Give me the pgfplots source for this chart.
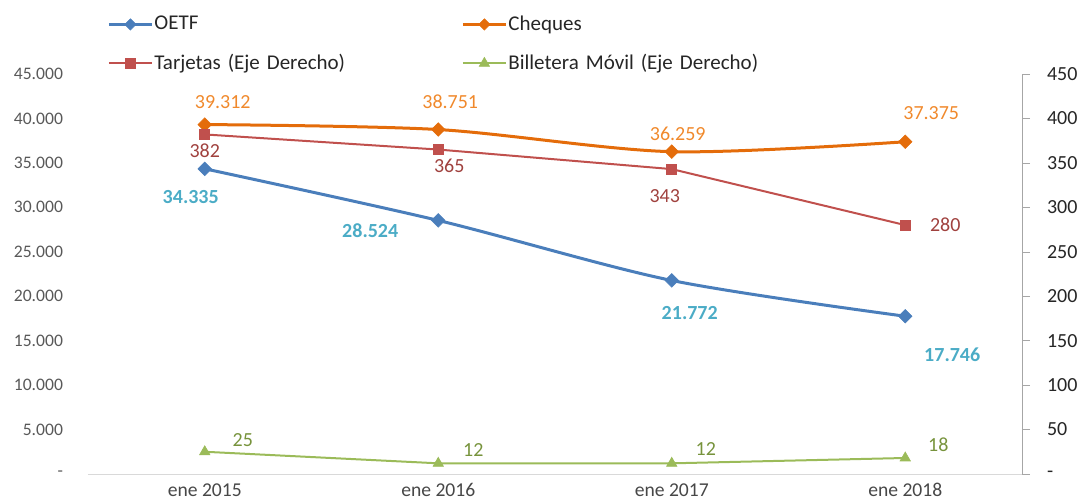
\documentclass[border=0pt]{standalone}
\usepackage{pgfplots}
\pgfplotsset{compat=1.18}
\usepackage{fontspec}
\setmainfont{Carlito}
\definecolor{oetf}{HTML}{4A7EBB}
\definecolor{oetflab}{HTML}{4BACC6}
\definecolor{chq}{HTML}{E46C0A}
\definecolor{chqlab}{HTML}{F0892C}
\definecolor{tar}{HTML}{C0504D}
\definecolor{tarlab}{HTML}{A0413E}
\definecolor{bil}{HTML}{9BBB59}
\definecolor{billab}{HTML}{77933C}
\definecolor{tickc}{HTML}{595959}
\pgfplotstableread{
x oetf cheques
0 34335 39312
1 28524 38751
2 21772 36259
3 17746 37375
}\lefttab
\pgfplotstableread{
x tarjetas billetera
0 382 25
1 365 12
2 343 12
3 280 18
}\righttab
\tikzset{lab/.style={font=\fontsize{10}{12}\selectfont, inner sep=0pt, anchor=center}}
\begin{document}
\begin{tikzpicture}
\begin{axis}[
  name=ax1,
  at={(0,0)}, anchor=south west,
  scale only axis, width=467pt, height=200pt,
  xmin=-0.5, xmax=3.5, ymin=0, ymax=45000,
  scaled y ticks=false,
  axis x line*=bottom, axis y line*=left,
  x axis line style={draw=black!15, -},
  y axis line style={draw=none},
  xtick={0,1,2,3},
  xticklabels={ene 2015, ene 2016, ene 2017, ene 2018},
  ytick={0,5000,...,45000},
  yticklabels={-,5.000,10.000,15.000,20.000,25.000,30.000,35.000,40.000,45.000},
  major tick length=0pt,
  tick style={draw=none},
  yticklabel style={font=\fontsize{8.8}{10}\selectfont, text=tickc, xshift=-9pt},
  xticklabel style={font=\fontsize{9.8}{11}\selectfont, text=tickc!80!black, yshift=-1.2pt},
  clip=false,
]
\addplot[oetf, line width=1.5pt, smooth, tension=0.5, mark=square*, mark size=2.4pt, mark options={fill=oetf, solid, line width=0.3pt, rotate=45}] table[x=x, y=oetf] {\lefttab};
\addplot[chq, line width=1.5pt, smooth, tension=0.5, mark=square*, mark size=2.4pt, mark options={fill=chq, solid, line width=0.3pt, rotate=45}] table[x=x, y=cheques] {\lefttab};
\node[lab, text=chqlab, xshift=9pt, yshift=11pt] at (axis cs:0,39312) {39.312};
\node[lab, text=chqlab, xshift=6pt, yshift=14pt] at (axis cs:1,38751) {38.751};
\node[lab, text=chqlab, xshift=3pt, yshift=9pt] at (axis cs:2,36259) {36.259};
\node[lab, text=chqlab, xshift=13pt, yshift=14.5pt] at (axis cs:3,37375) {37.375};
\node[lab, text=oetflab, font=\fontsize{10}{12}\selectfont\bfseries, xshift=-7pt, yshift=-14pt] at (axis cs:0,34335) {34.335};
\node[lab, text=oetflab, font=\fontsize{10}{12}\selectfont\bfseries, xshift=-34pt, yshift=-5pt] at (axis cs:1,28524) {28.524};
\node[lab, text=oetflab, font=\fontsize{10}{12}\selectfont\bfseries, xshift=9pt, yshift=-16.5pt] at (axis cs:2,21772) {21.772};
\node[lab, text=oetflab, font=\fontsize{10}{12}\selectfont\bfseries, xshift=23.5pt, yshift=-19pt] at (axis cs:3,17746) {17.746};
\end{axis}
\begin{axis}[
  at={(0,0)}, anchor=south west,
  scale only axis, width=467pt, height=200pt,
  xmin=-0.5, xmax=3.5, ymin=0, ymax=450,
  axis x line=none, axis y line*=right,
  y axis line style={draw=black!35, -},
  ytick={0,50,...,450},
  yticklabels={-,50,100,150,200,250,300,350,400,450},
  tick align=outside, major tick length=4pt,
  ytick style={draw=black!35},
  yticklabel style={font=\fontsize{10}{12}\selectfont, text=black!85, xshift=5pt},
  clip=false,
  legend columns=2,
  legend style={draw=none, fill=none, inner sep=0pt, at={(0,1)}, anchor=south west, xshift=9.5pt, yshift=0pt,
    font=\fontsize{10.5}{12}\selectfont, row sep=9.5pt,
    nodes={inner sep=0.5pt, text width=153pt, align=left, text=black!85}},
  legend cell align=left,
  legend image code/.code={\draw[mark repeat=2, mark phase=2, #1] plot coordinates {(0pt,0pt) (10.75pt,0pt) (21.5pt,0pt)};},
]
\addlegendimage{oetf, line width=1.5pt, mark=square*, mark size=2pt, mark options={fill=oetf, solid, line width=0.3pt, rotate=45}}
\addlegendentry{OETF}
\addlegendimage{chq, line width=1.5pt, mark=square*, mark size=2pt, mark options={fill=chq, solid, line width=0.3pt, rotate=45}}
\addlegendentry{Cheques}
\addplot[tar, line width=1pt, mark=square*, mark size=2.5pt, mark options={fill=tar, solid, line width=0.3pt}] table[x=x, y=tarjetas] {\righttab};
\addlegendentry{Tarjetas (Eje Derecho)}
\addplot[bil, line width=1pt, mark=triangle*, mark size=3pt, mark options={fill=bil, solid, line width=0.3pt}] table[x=x, y=billetera] {\righttab};
\addlegendentry{Billetera Móvil (Eje Derecho)}
\node[lab, text=tarlab] at ([xshift=0pt, yshift=-8pt]axis cs:0,382) {382};
\node[lab, text=tarlab] at ([xshift=5.5pt, yshift=-8pt]axis cs:1,365) {365};
\node[lab, text=tarlab] at ([xshift=-3.5pt, yshift=-13.5pt]axis cs:2,343) {343};
\node[lab, text=tarlab] at ([xshift=20pt, yshift=0pt]axis cs:3,280) {280};
\node[lab, text=billab] at ([xshift=19pt, yshift=6pt]axis cs:0,25) {25};
\node[lab, text=billab] at ([xshift=17.5pt, yshift=6.5pt]axis cs:1,12) {12};
\node[lab, text=billab] at ([xshift=17pt, yshift=7pt]axis cs:2,12) {12};
\node[lab, text=billab] at ([xshift=16.5pt, yshift=6.5pt]axis cs:3,18) {18};
\end{axis}
\pgfresetboundingbox
\path ([shift={(-44pt,-13.5pt)}]ax1.south west) rectangle ([shift={(30.5pt,37pt)}]ax1.north east);
\end{tikzpicture}
\end{document}
